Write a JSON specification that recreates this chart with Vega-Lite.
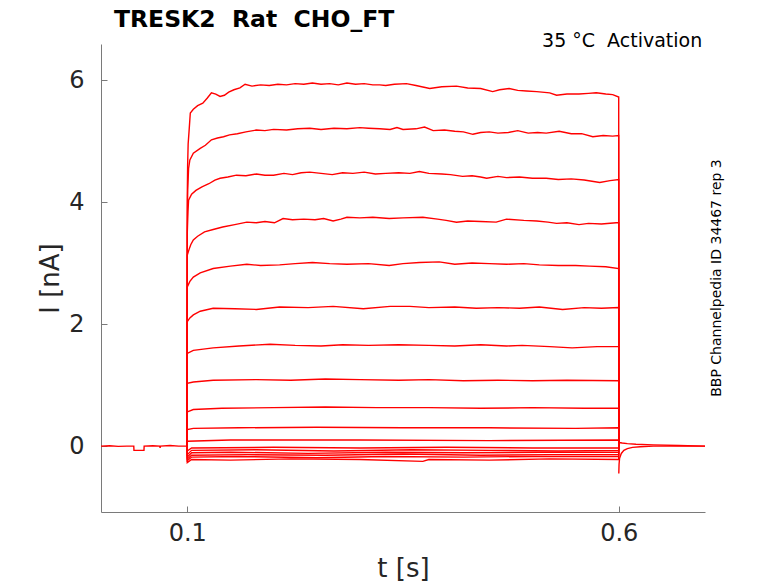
{
"$schema": "https://vega.github.io/schema/vega-lite/v6.json",
"autosize": {"type": "none"},
"width": 604, "height": 468,
"padding": {"left": 101, "top": 44, "right": 73, "bottom": 71},
"background": "white",
"config": {"view": {"stroke": null}, "font": "DejaVu Sans"},
"layer": [
{
"data": {"values": [
{"s":0,"t":0,"v":0},{"s":0,"t":0.01,"v":0.005},{"s":0,"t":0.02,"v":-0.005},{"s":0,"t":0.03,"v":0},{"s":0,"t":0.038,"v":0},{"s":0,"t":0.0382,"v":-0.07},{"s":0,"t":0.0498,"v":-0.07},{"s":0,"t":0.05,"v":0},{"s":0,"t":0.06,"v":0.005},{"s":0,"t":0.068,"v":0},{"s":0,"t":0.0685,"v":-0.03},{"s":0,"t":0.069,"v":0},{"s":0,"t":0.08,"v":0.01},{"s":0,"t":0.09,"v":0},{"s":0,"t":0.0999,"v":0},
{"s":1,"t":0.0999,"v":0},{"s":1,"t":0.1,"v":4.1},{"s":1,"t":0.1004,"v":4.6},{"s":1,"t":0.101,"v":4.95},{"s":1,"t":0.102,"v":5.15},{"s":1,"t":0.1035,"v":5.46},{"s":1,"t":0.107,"v":5.52},{"s":1,"t":0.112,"v":5.58},{"s":1,"t":0.118,"v":5.62},{"s":1,"t":0.123,"v":5.7},{"s":1,"t":0.128,"v":5.79},{"s":1,"t":0.133,"v":5.77},{"s":1,"t":0.138,"v":5.73},{"s":1,"t":0.143,"v":5.75},{"s":1,"t":0.148,"v":5.8},{"s":1,"t":0.154,"v":5.84},{"s":1,"t":0.161,"v":5.87},{"s":1,"t":0.167,"v":5.93},{"s":1,"t":0.175,"v":5.9},{"s":1,"t":0.185,"v":5.92},{"s":1,"t":0.195,"v":5.91},{"s":1,"t":0.205,"v":5.93},{"s":1,"t":0.215,"v":5.92},{"s":1,"t":0.225,"v":5.94},{"s":1,"t":0.235,"v":5.93},{"s":1,"t":0.245,"v":5.95},{"s":1,"t":0.255,"v":5.93},{"s":1,"t":0.265,"v":5.94},{"s":1,"t":0.275,"v":5.92},{"s":1,"t":0.285,"v":5.95},{"s":1,"t":0.295,"v":5.93},{"s":1,"t":0.305,"v":5.94},{"s":1,"t":0.315,"v":5.92},{"s":1,"t":0.323,"v":5.92},{"s":1,"t":0.33,"v":5.91},{"s":1,"t":0.34,"v":5.93},{"s":1,"t":0.354,"v":5.94},{"s":1,"t":0.365,"v":5.91},{"s":1,"t":0.381,"v":5.86},{"s":1,"t":0.395,"v":5.89},{"s":1,"t":0.412,"v":5.9},{"s":1,"t":0.425,"v":5.87},{"s":1,"t":0.44,"v":5.86},{"s":1,"t":0.454,"v":5.81},{"s":1,"t":0.462,"v":5.84},{"s":1,"t":0.473,"v":5.86},{"s":1,"t":0.483,"v":5.83},{"s":1,"t":0.493,"v":5.82},{"s":1,"t":0.505,"v":5.81},{"s":1,"t":0.52,"v":5.79},{"s":1,"t":0.528,"v":5.75},{"s":1,"t":0.54,"v":5.77},{"s":1,"t":0.554,"v":5.77},{"s":1,"t":0.565,"v":5.78},{"s":1,"t":0.574,"v":5.79},{"s":1,"t":0.585,"v":5.77},{"s":1,"t":0.593,"v":5.76},{"s":1,"t":0.6,"v":5.72},{"s":1,"t":0.6001,"v":0},
{"s":2,"t":0.0999,"v":0},{"s":2,"t":0.1,"v":3.7},{"s":2,"t":0.1005,"v":4.2},{"s":2,"t":0.1015,"v":4.55},{"s":2,"t":0.103,"v":4.69},{"s":2,"t":0.107,"v":4.8},{"s":2,"t":0.115,"v":4.88},{"s":2,"t":0.121,"v":4.93},{"s":2,"t":0.128,"v":5.02},{"s":2,"t":0.135,"v":5.05},{"s":2,"t":0.142,"v":5.07},{"s":2,"t":0.149,"v":5.1},{"s":2,"t":0.158,"v":5.12},{"s":2,"t":0.168,"v":5.15},{"s":2,"t":0.18,"v":5.18},{"s":2,"t":0.19,"v":5.17},{"s":2,"t":0.2,"v":5.19},{"s":2,"t":0.215,"v":5.18},{"s":2,"t":0.228,"v":5.2},{"s":2,"t":0.242,"v":5.21},{"s":2,"t":0.255,"v":5.19},{"s":2,"t":0.27,"v":5.21},{"s":2,"t":0.285,"v":5.2},{"s":2,"t":0.3,"v":5.22},{"s":2,"t":0.31,"v":5.21},{"s":2,"t":0.323,"v":5.2},{"s":2,"t":0.335,"v":5.19},{"s":2,"t":0.343,"v":5.22},{"s":2,"t":0.35,"v":5.19},{"s":2,"t":0.365,"v":5.2},{"s":2,"t":0.375,"v":5.23},{"s":2,"t":0.385,"v":5.17},{"s":2,"t":0.398,"v":5.18},{"s":2,"t":0.41,"v":5.16},{"s":2,"t":0.42,"v":5.15},{"s":2,"t":0.431,"v":5.11},{"s":2,"t":0.44,"v":5.14},{"s":2,"t":0.45,"v":5.15},{"s":2,"t":0.46,"v":5.13},{"s":2,"t":0.472,"v":5.14},{"s":2,"t":0.483,"v":5.17},{"s":2,"t":0.495,"v":5.13},{"s":2,"t":0.506,"v":5.14},{"s":2,"t":0.516,"v":5.13},{"s":2,"t":0.531,"v":5.16},{"s":2,"t":0.545,"v":5.12},{"s":2,"t":0.557,"v":5.12},{"s":2,"t":0.57,"v":5.07},{"s":2,"t":0.582,"v":5.09},{"s":2,"t":0.593,"v":5.08},{"s":2,"t":0.6,"v":5.09},{"s":2,"t":0.6001,"v":0},
{"s":3,"t":0.0999,"v":0},{"s":3,"t":0.1,"v":3.5},{"s":3,"t":0.1008,"v":3.85},{"s":3,"t":0.1015,"v":4.03},{"s":3,"t":0.105,"v":4.13},{"s":3,"t":0.11,"v":4.19},{"s":3,"t":0.117,"v":4.25},{"s":3,"t":0.125,"v":4.3},{"s":3,"t":0.132,"v":4.36},{"s":3,"t":0.138,"v":4.39},{"s":3,"t":0.147,"v":4.41},{"s":3,"t":0.157,"v":4.44},{"s":3,"t":0.168,"v":4.43},{"s":3,"t":0.18,"v":4.46},{"s":3,"t":0.19,"v":4.44},{"s":3,"t":0.2,"v":4.44},{"s":3,"t":0.212,"v":4.47},{"s":3,"t":0.222,"v":4.45},{"s":3,"t":0.232,"v":4.48},{"s":3,"t":0.242,"v":4.49},{"s":3,"t":0.255,"v":4.47},{"s":3,"t":0.268,"v":4.45},{"s":3,"t":0.28,"v":4.48},{"s":3,"t":0.292,"v":4.47},{"s":3,"t":0.305,"v":4.49},{"s":3,"t":0.318,"v":4.46},{"s":3,"t":0.33,"v":4.47},{"s":3,"t":0.345,"v":4.48},{"s":3,"t":0.358,"v":4.47},{"s":3,"t":0.369,"v":4.5},{"s":3,"t":0.38,"v":4.47},{"s":3,"t":0.395,"v":4.46},{"s":3,"t":0.405,"v":4.45},{"s":3,"t":0.419,"v":4.42},{"s":3,"t":0.43,"v":4.43},{"s":3,"t":0.44,"v":4.41},{"s":3,"t":0.447,"v":4.39},{"s":3,"t":0.46,"v":4.42},{"s":3,"t":0.47,"v":4.4},{"s":3,"t":0.485,"v":4.41},{"s":3,"t":0.5,"v":4.39},{"s":3,"t":0.516,"v":4.39},{"s":3,"t":0.53,"v":4.37},{"s":3,"t":0.545,"v":4.38},{"s":3,"t":0.56,"v":4.36},{"s":3,"t":0.578,"v":4.32},{"s":3,"t":0.59,"v":4.35},{"s":3,"t":0.6,"v":4.37},{"s":3,"t":0.6001,"v":0},
{"s":4,"t":0.0999,"v":0},{"s":4,"t":0.1,"v":3.13},{"s":4,"t":0.102,"v":3.22},{"s":4,"t":0.104,"v":3.3},{"s":4,"t":0.107,"v":3.38},{"s":4,"t":0.112,"v":3.44},{"s":4,"t":0.12,"v":3.51},{"s":4,"t":0.13,"v":3.55},{"s":4,"t":0.141,"v":3.59},{"s":4,"t":0.155,"v":3.63},{"s":4,"t":0.169,"v":3.67},{"s":4,"t":0.18,"v":3.66},{"s":4,"t":0.19,"v":3.68},{"s":4,"t":0.201,"v":3.66},{"s":4,"t":0.211,"v":3.73},{"s":4,"t":0.222,"v":3.71},{"s":4,"t":0.235,"v":3.72},{"s":4,"t":0.248,"v":3.71},{"s":4,"t":0.258,"v":3.73},{"s":4,"t":0.269,"v":3.69},{"s":4,"t":0.278,"v":3.72},{"s":4,"t":0.285,"v":3.75},{"s":4,"t":0.3,"v":3.74},{"s":4,"t":0.315,"v":3.75},{"s":4,"t":0.334,"v":3.73},{"s":4,"t":0.35,"v":3.74},{"s":4,"t":0.373,"v":3.75},{"s":4,"t":0.39,"v":3.72},{"s":4,"t":0.4,"v":3.7},{"s":4,"t":0.412,"v":3.67},{"s":4,"t":0.425,"v":3.69},{"s":4,"t":0.44,"v":3.68},{"s":4,"t":0.458,"v":3.67},{"s":4,"t":0.47,"v":3.72},{"s":4,"t":0.49,"v":3.7},{"s":4,"t":0.505,"v":3.69},{"s":4,"t":0.518,"v":3.67},{"s":4,"t":0.528,"v":3.65},{"s":4,"t":0.54,"v":3.66},{"s":4,"t":0.554,"v":3.63},{"s":4,"t":0.565,"v":3.65},{"s":4,"t":0.58,"v":3.64},{"s":4,"t":0.597,"v":3.66},{"s":4,"t":0.6,"v":3.66},{"s":4,"t":0.6001,"v":0},
{"s":5,"t":0.0999,"v":0},{"s":5,"t":0.1,"v":2.61},{"s":5,"t":0.103,"v":2.7},{"s":5,"t":0.107,"v":2.77},{"s":5,"t":0.115,"v":2.84},{"s":5,"t":0.13,"v":2.91},{"s":5,"t":0.15,"v":2.95},{"s":5,"t":0.169,"v":2.98},{"s":5,"t":0.185,"v":2.96},{"s":5,"t":0.207,"v":2.97},{"s":5,"t":0.225,"v":2.99},{"s":5,"t":0.245,"v":3.01},{"s":5,"t":0.265,"v":2.99},{"s":5,"t":0.285,"v":2.98},{"s":5,"t":0.31,"v":2.99},{"s":5,"t":0.334,"v":2.96},{"s":5,"t":0.35,"v":2.99},{"s":5,"t":0.369,"v":3.01},{"s":5,"t":0.392,"v":3.02},{"s":5,"t":0.41,"v":2.98},{"s":5,"t":0.43,"v":3.0},{"s":5,"t":0.45,"v":2.99},{"s":5,"t":0.47,"v":2.98},{"s":5,"t":0.49,"v":2.99},{"s":5,"t":0.508,"v":2.97},{"s":5,"t":0.53,"v":2.96},{"s":5,"t":0.55,"v":2.96},{"s":5,"t":0.566,"v":2.95},{"s":5,"t":0.585,"v":2.94},{"s":5,"t":0.6,"v":2.91},{"s":5,"t":0.6001,"v":0},
{"s":6,"t":0.0999,"v":0},{"s":6,"t":0.1,"v":2.04},{"s":6,"t":0.103,"v":2.1},{"s":6,"t":0.107,"v":2.15},{"s":6,"t":0.115,"v":2.21},{"s":6,"t":0.13,"v":2.26},{"s":6,"t":0.155,"v":2.25},{"s":6,"t":0.18,"v":2.24},{"s":6,"t":0.207,"v":2.28},{"s":6,"t":0.24,"v":2.27},{"s":6,"t":0.269,"v":2.29},{"s":6,"t":0.304,"v":2.25},{"s":6,"t":0.335,"v":2.29},{"s":6,"t":0.358,"v":2.29},{"s":6,"t":0.38,"v":2.27},{"s":6,"t":0.41,"v":2.28},{"s":6,"t":0.435,"v":2.26},{"s":6,"t":0.46,"v":2.27},{"s":6,"t":0.485,"v":2.26},{"s":6,"t":0.508,"v":2.28},{"s":6,"t":0.535,"v":2.24},{"s":6,"t":0.56,"v":2.27},{"s":6,"t":0.58,"v":2.26},{"s":6,"t":0.6,"v":2.27},{"s":6,"t":0.6001,"v":0},
{"s":7,"t":0.0999,"v":0},{"s":7,"t":0.1,"v":1.52},{"s":7,"t":0.107,"v":1.57},{"s":7,"t":0.13,"v":1.61},{"s":7,"t":0.16,"v":1.64},{"s":7,"t":0.196,"v":1.67},{"s":7,"t":0.225,"v":1.65},{"s":7,"t":0.255,"v":1.64},{"s":7,"t":0.28,"v":1.66},{"s":7,"t":0.31,"v":1.65},{"s":7,"t":0.345,"v":1.66},{"s":7,"t":0.38,"v":1.65},{"s":7,"t":0.41,"v":1.64},{"s":7,"t":0.44,"v":1.66},{"s":7,"t":0.47,"v":1.64},{"s":7,"t":0.488,"v":1.65},{"s":7,"t":0.52,"v":1.63},{"s":7,"t":0.546,"v":1.61},{"s":7,"t":0.575,"v":1.63},{"s":7,"t":0.6,"v":1.63},{"s":7,"t":0.6001,"v":0},
{"s":8,"t":0.0999,"v":0},{"s":8,"t":0.1,"v":1.03},{"s":8,"t":0.107,"v":1.05},{"s":8,"t":0.13,"v":1.08},{"s":8,"t":0.18,"v":1.09},{"s":8,"t":0.22,"v":1.08},{"s":8,"t":0.26,"v":1.1},{"s":8,"t":0.3,"v":1.09},{"s":8,"t":0.345,"v":1.08},{"s":8,"t":0.38,"v":1.09},{"s":8,"t":0.42,"v":1.07},{"s":8,"t":0.46,"v":1.08},{"s":8,"t":0.5,"v":1.07},{"s":8,"t":0.54,"v":1.08},{"s":8,"t":0.6,"v":1.07},{"s":8,"t":0.6001,"v":0},
{"s":9,"t":0.0999,"v":0},{"s":9,"t":0.1,"v":0.56},{"s":9,"t":0.107,"v":0.6},{"s":9,"t":0.14,"v":0.62},{"s":9,"t":0.2,"v":0.63},{"s":9,"t":0.26,"v":0.64},{"s":9,"t":0.32,"v":0.63},{"s":9,"t":0.38,"v":0.63},{"s":9,"t":0.44,"v":0.62},{"s":9,"t":0.5,"v":0.63},{"s":9,"t":0.56,"v":0.62},{"s":9,"t":0.6,"v":0.62},{"s":9,"t":0.6001,"v":0},
{"s":10,"t":0.0999,"v":0},{"s":10,"t":0.1,"v":0.27},{"s":10,"t":0.107,"v":0.29},{"s":10,"t":0.16,"v":0.3},{"s":10,"t":0.25,"v":0.31},{"s":10,"t":0.35,"v":0.3},{"s":10,"t":0.45,"v":0.3},{"s":10,"t":0.55,"v":0.29},{"s":10,"t":0.6,"v":0.3},{"s":10,"t":0.6001,"v":0},
{"s":11,"t":0.0999,"v":0},{"s":11,"t":0.1,"v":0.08},{"s":11,"t":0.15,"v":0.1},{"s":11,"t":0.3,"v":0.1},{"s":11,"t":0.45,"v":0.09},{"s":11,"t":0.6,"v":0.1},{"s":11,"t":0.6001,"v":0},
{"s":12,"t":0.0999,"v":0},{"s":12,"t":0.1,"v":-0.08},{"s":12,"t":0.105,"v":-0.03},{"s":12,"t":0.2,"v":-0.02},{"s":12,"t":0.3,"v":-0.03},{"s":12,"t":0.4,"v":-0.02},{"s":12,"t":0.5,"v":-0.03},{"s":12,"t":0.6,"v":-0.03},{"s":12,"t":0.6001,"v":0},
{"s":13,"t":0.0999,"v":0},{"s":13,"t":0.1,"v":-0.14},{"s":13,"t":0.105,"v":-0.07},{"s":13,"t":0.18,"v":-0.06},{"s":13,"t":0.27,"v":-0.08},{"s":13,"t":0.36,"v":-0.06},{"s":13,"t":0.45,"v":-0.07},{"s":13,"t":0.53,"v":-0.08},{"s":13,"t":0.6,"v":-0.07},{"s":13,"t":0.6001,"v":0},
{"s":14,"t":0.0999,"v":0},{"s":14,"t":0.1,"v":-0.18},{"s":14,"t":0.105,"v":-0.11},{"s":14,"t":0.15,"v":-0.1},{"s":14,"t":0.24,"v":-0.12},{"s":14,"t":0.33,"v":-0.1},{"s":14,"t":0.42,"v":-0.11},{"s":14,"t":0.51,"v":-0.1},{"s":14,"t":0.6,"v":-0.1},{"s":14,"t":0.6001,"v":0},
{"s":15,"t":0.0999,"v":0},{"s":15,"t":0.1,"v":-0.21},{"s":15,"t":0.105,"v":-0.15},{"s":15,"t":0.17,"v":-0.14},{"s":15,"t":0.26,"v":-0.15},{"s":15,"t":0.35,"v":-0.13},{"s":15,"t":0.44,"v":-0.15},{"s":15,"t":0.52,"v":-0.14},{"s":15,"t":0.6,"v":-0.14},{"s":15,"t":0.6001,"v":0},
{"s":16,"t":0.0999,"v":0},{"s":16,"t":0.1,"v":-0.24},{"s":16,"t":0.105,"v":-0.18},{"s":16,"t":0.16,"v":-0.17},{"s":16,"t":0.25,"v":-0.19},{"s":16,"t":0.33,"v":-0.17},{"s":16,"t":0.42,"v":-0.18},{"s":16,"t":0.5,"v":-0.17},{"s":16,"t":0.6,"v":-0.17},{"s":16,"t":0.6001,"v":0},
{"s":17,"t":0.0999,"v":0},{"s":17,"t":0.1,"v":-0.27},{"s":17,"t":0.105,"v":-0.22},{"s":17,"t":0.15,"v":-0.23},{"s":17,"t":0.22,"v":-0.21},{"s":17,"t":0.3,"v":-0.22},{"s":17,"t":0.373,"v":-0.25},{"s":17,"t":0.38,"v":-0.22},{"s":17,"t":0.45,"v":-0.23},{"s":17,"t":0.52,"v":-0.21},{"s":17,"t":0.6,"v":-0.22},{"s":17,"t":0.6001,"v":0},
{"s":18,"t":0.6001,"v":-0.45},{"s":18,"t":0.6004,"v":-0.3},{"s":18,"t":0.601,"v":-0.2},{"s":18,"t":0.603,"v":-0.12},{"s":18,"t":0.606,"v":-0.07},{"s":18,"t":0.61,"v":-0.04},{"s":18,"t":0.616,"v":-0.02},{"s":18,"t":0.625,"v":-0.01},{"s":18,"t":0.64,"v":0},{"s":18,"t":0.7,"v":0},
{"s":19,"t":0.6001,"v":0.06},{"s":19,"t":0.604,"v":0.05},{"s":19,"t":0.61,"v":0.04},{"s":19,"t":0.62,"v":0.03},{"s":19,"t":0.64,"v":0.02},{"s":19,"t":0.67,"v":0.01},{"s":19,"t":0.7,"v":0}
]},
"mark": {"type": "line", "color": "#ff0000", "strokeWidth": 1.4, "clip": true},
"encoding": {
"x": {"field": "t", "type": "quantitative", "scale": {"domain": [0, 0.7], "nice": false, "zero": false},
 "axis": {"values": [0.1, 0.6], "format": ".1f", "title": "t [s]", "grid": false, "tickSize": -6, "labelPadding": 15, "labelFontSize": 24, "labelColor": "#262626", "labelFont": "DejaVu Sans", "titleFont": "DejaVu Sans", "titleFontSize": 26, "titleFontWeight": "normal", "titleColor": "#262626", "titlePadding": 10, "domainColor": "#7a7a7a", "tickColor": "#7a7a7a"}},
"y": {"field": "v", "type": "quantitative", "scale": {"domain": [-1.08, 6.59], "nice": false, "zero": false},
 "axis": {"values": [0, 2, 4, 6], "format": "d", "title": "I [nA]", "grid": false, "tickSize": -6, "labelPadding": 23, "labelFontSize": 24, "labelColor": "#262626", "labelFont": "DejaVu Sans", "titleFont": "DejaVu Sans", "titleFontSize": 26, "titleFontWeight": "normal", "titleColor": "#262626", "titlePadding": 5, "domainColor": "#7a7a7a", "tickColor": "#7a7a7a"}},
"detail": {"field": "s", "type": "nominal"}
}
},
{
"data": {"values": [{}]},
"mark": {"type": "text", "text": "TRESK2 \u00a0Rat \u00a0CHO_FT", "align": "left", "baseline": "alphabetic", "fontSize": 23.5, "fontWeight": "bold", "font": "DejaVu Sans", "color": "#000000"},
"encoding": {"x": {"datum": 0.01505, "type": "quantitative"}, "y": {"datum": 6.869, "type": "quantitative"}}
},
{
"data": {"values": [{}]},
"mark": {"type": "text", "text": "35 °C \u00a0Activation", "align": "right", "baseline": "alphabetic", "fontSize": 19, "font": "DejaVu Sans", "color": "#000000"},
"encoding": {"x": {"datum": 0.6968, "type": "quantitative"}, "y": {"datum": 6.54, "type": "quantitative"}}
},
{
"data": {"values": [{}]},
"mark": {"type": "text", "text": "BBP Channelpedia ID 34467 rep 3", "angle": 270, "align": "center", "baseline": "middle", "fontSize": 14, "font": "DejaVu Sans", "color": "#000000"},
"encoding": {"x": {"datum": 0.7135, "type": "quantitative"}, "y": {"datum": 2.755, "type": "quantitative"}}
}
]
}
